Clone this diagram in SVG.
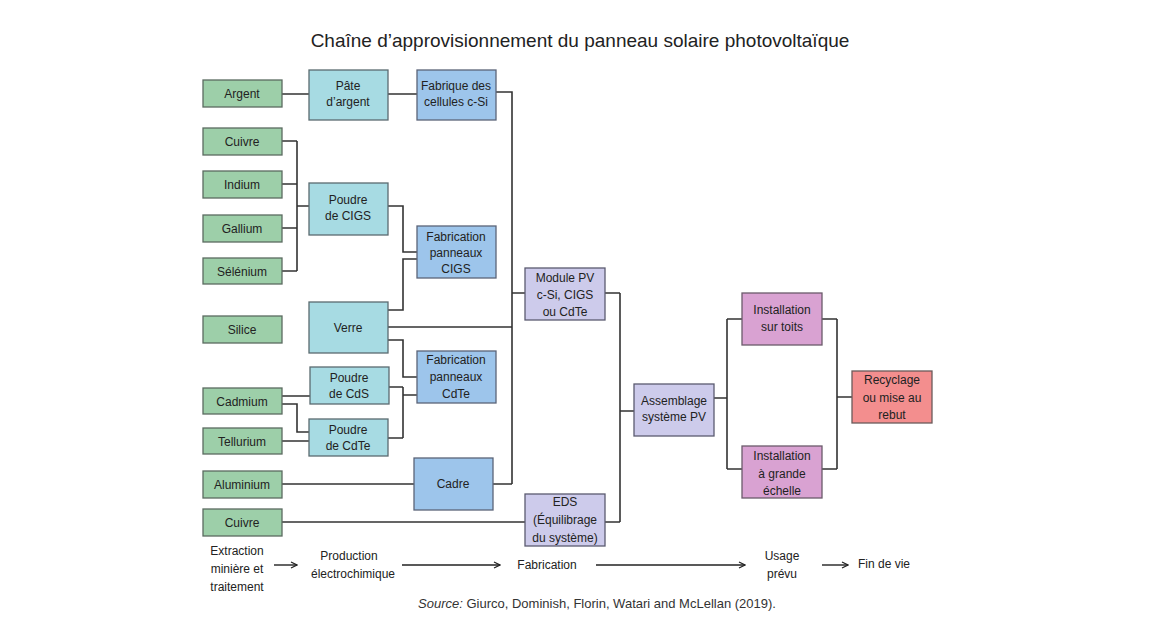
<svg xmlns="http://www.w3.org/2000/svg" width="1160" height="641" viewBox="0 0 1160 641">
<defs>
<style>
text{font-family:"Liberation Sans",Arial,sans-serif;font-size:12px;fill:#222;text-anchor:middle}
.g rect{fill:#9dcfa9;stroke:#5b6b60;stroke-width:1.3}
.lb rect{fill:#a7dbe3;stroke:#5b6b70;stroke-width:1.3}
.b rect{fill:#9dc5eb;stroke:#5b6478;stroke-width:1.3}
.p rect{fill:#cdcbeb;stroke:#5b5b70;stroke-width:1.3}
.k rect{fill:#d9a2d2;stroke:#6b5b6b;stroke-width:1.3}
.r rect{fill:#f38e8e;stroke:#6b5b5b;stroke-width:1.3}
#conn path{fill:none;stroke:#333;stroke-width:1.6}
#time path{fill:none;stroke:#222;stroke-width:1.4}
</style>
<marker id="ar" markerWidth="8" markerHeight="8" refX="7" refY="4" orient="auto" markerUnits="userSpaceOnUse"><path d="M1,1 L7,4 L1,7" fill="none" stroke="#222" stroke-width="1.2"/></marker>
</defs>
<rect width="1160" height="641" fill="#fff"/>
<text x="580" y="47" style="font-size:19px">Chaîne d’approvisionnement du panneau solaire photovoltaïque</text>
<g id="conn">
<path d="M282,94H309M388,94H417M496,92H512V484M512,293H525M388,327H512M493,484H512"/>
<path d="M282,141H297M282,184H297M282,228H297M282,271H297M297,141V271M297,206H309"/>
<path d="M388,206H403V252H417M388,310H403V259H417M388,340H403V377H417"/>
<path d="M282,396H310M282,404H297V432H309M282,441H309M389,387H403M388,438H403M403,387V438M403,395H417"/>
<path d="M282,484H414M282,522H525"/>
<path d="M605,293H620M605,522H620M620,293V522M620,411H634"/>
<path d="M714,398H727M727,319V469M727,319H742M727,469H742M822,319H837M822,469H837M837,319V469M837,397H852"/>
</g>
<g id="n-argent" class="g"><rect x="203" y="80" width="79" height="27"/><text x="242" y="98">Argent</text></g>
<g id="n-cuivre1" class="g"><rect x="203" y="128" width="79" height="27"/><text x="242" y="146">Cuivre</text></g>
<g id="n-indium" class="g"><rect x="203" y="171" width="79" height="27"/><text x="242" y="189">Indium</text></g>
<g id="n-gallium" class="g"><rect x="203" y="215" width="79" height="27"/><text x="242" y="233">Gallium</text></g>
<g id="n-selenium" class="g"><rect x="203" y="258" width="79" height="26"/><text x="242" y="276">Sélénium</text></g>
<g id="n-silice" class="g"><rect x="203" y="316" width="79" height="27"/><text x="242" y="334">Silice</text></g>
<g id="n-cadmium" class="g"><rect x="203" y="388" width="79" height="26"/><text x="242" y="406">Cadmium</text></g>
<g id="n-tellurium" class="g"><rect x="203" y="428" width="79" height="26"/><text x="242" y="446">Tellurium</text></g>
<g id="n-aluminium" class="g"><rect x="203" y="471" width="79" height="27"/><text x="242" y="489">Aluminium</text></g>
<g id="n-cuivre2" class="g"><rect x="203" y="509" width="79" height="27"/><text x="242" y="527">Cuivre</text></g>
<g id="n-pate" class="lb"><rect x="309" y="70" width="79" height="50"/><text x="348" y="90">Pâte</text><text x="348" y="106">d’argent</text></g>
<g id="n-pcigs" class="lb"><rect x="309" y="183" width="79" height="52"/><text x="348" y="204">Poudre</text><text x="348" y="220">de CIGS</text></g>
<g id="n-verre" class="lb"><rect x="309" y="302" width="79" height="51"/><text x="348" y="332">Verre</text></g>
<g id="n-pcds" class="lb"><rect x="310" y="367" width="79" height="37"/><text x="349" y="382">Poudre</text><text x="349" y="398">de CdS</text></g>
<g id="n-pcdte" class="lb"><rect x="309" y="419" width="79" height="37"/><text x="348" y="434">Poudre</text><text x="348" y="450">de CdTe</text></g>
<g id="n-fab" class="b"><rect x="417" y="70" width="79" height="50"/><text x="456" y="90">Fabrique des</text><text x="456" y="106">cellules c-Si</text></g>
<g id="n-fcigs" class="b"><rect x="417" y="226" width="79" height="52"/><text x="456" y="241">Fabrication</text><text x="456" y="257">panneaux</text><text x="456" y="273">CIGS</text></g>
<g id="n-fcdte" class="b"><rect x="417" y="351" width="79" height="52"/><text x="456" y="364">Fabrication</text><text x="456" y="381">panneaux</text><text x="456" y="398">CdTe</text></g>
<g id="n-cadre" class="b"><rect x="414" y="458" width="79" height="52"/><text x="453" y="488">Cadre</text></g>
<g id="n-module" class="p"><rect x="525" y="268" width="80" height="52"/><text x="565" y="282">Module PV</text><text x="565" y="299">c-Si, CIGS</text><text x="565" y="316">ou CdTe</text></g>
<g id="n-eds" class="p"><rect x="525" y="494" width="80" height="52"/><text x="565" y="506">EDS</text><text x="565" y="524">(Équilibrage</text><text x="565" y="542">du système)</text></g>
<g id="n-assemb" class="p"><rect x="634" y="384" width="80" height="52"/><text x="674" y="405">Assemblage</text><text x="674" y="421">système PV</text></g>
<g id="n-toits" class="k"><rect x="742" y="293" width="80" height="52"/><text x="782" y="314">Installation</text><text x="782" y="331">sur toits</text></g>
<g id="n-grande" class="k"><rect x="742" y="446" width="80" height="52"/><text x="782" y="460">Installation</text><text x="782" y="478">à grande</text><text x="782" y="495">échelle</text></g>
<g id="n-recyc" class="r"><rect x="852" y="371" width="80" height="52"/><text x="892" y="384">Recyclage</text><text x="892" y="402">ou mise au</text><text x="892" y="419">rebut</text></g>
<g id="time">
<text x="237" y="555">Extraction</text><text x="237" y="573">minière et</text><text x="237" y="591">traitement</text>
<path d="M274,565H297" marker-end="url(#ar)"/>
<text x="349" y="560">Production</text><text x="353" y="578">électrochimique</text>
<path d="M402,565H500" marker-end="url(#ar)"/>
<text x="547" y="569">Fabrication</text>
<path d="M596,565H745" marker-end="url(#ar)"/>
<text x="782" y="560">Usage</text><text x="782" y="578">prévu</text>
<path d="M822,565H848" marker-end="url(#ar)"/>
<text x="884" y="568">Fin de vie</text>
</g>
<text x="597" y="608" style="font-size:13px;fill:#333"><tspan font-style="italic">Source:</tspan> Giurco, Dominish, Florin, Watari and McLellan (2019).</text>
</svg>
